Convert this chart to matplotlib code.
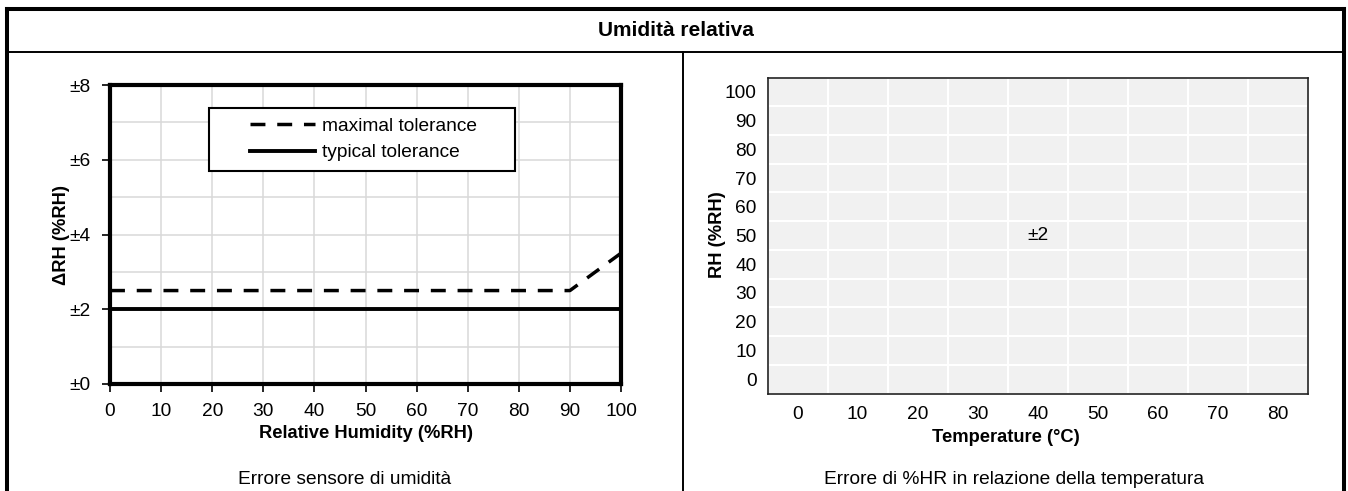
import numpy as np
import matplotlib
matplotlib.use("Agg")
import matplotlib.pyplot as plt
from matplotlib.lines import Line2D
from matplotlib.patches import Rectangle

plt.rcParams['font.family'] = ['Liberation Sans', 'DejaVu Sans']

# left chart: tolerance vs relative humidity
rh_max = [0, 90, 100]
tol_max = [2.5, 2.5, 3.5]
rh_typ = [0, 100]
tol_typ = [2.0, 2.0]
rh_ticks = list(range(0, 101, 10))
dev_ticks = [0, 2, 4, 6, 8]
dev_labels = ['±0', '±2', '±4', '±6', '±8']

# right chart: error grid vs temperature
temps = [0, 10, 20, 30, 40, 50, 60, 70, 80]
rh_rows = [0, 10, 20, 30, 40, 50, 60, 70, 80, 90, 100]
cell_label = '±2'
cell_at = (40, 50)

W, H = 1348, 491
fig = plt.figure(figsize=(W / 100, H / 100), dpi=100)

TICK = 13.8
LAB = 13.2


def box(x, y, w, h):
    return [x / W, 1 - (y + h) / H, w / W, h / H]


def fline(xs, ys, lw):
    fig.add_artist(Line2D([x / W for x in xs], [1 - y / H for y in ys],
                          color='black', lw=lw, solid_capstyle='projecting'))


# outer table frame
fline([7, 7], [9, H + 5], 2.9)
fline([1344, 1344], [9, H + 5], 2.9)
fline([7, 1344], [9, 9], 2.9)
fline([7, 1344], [52, 52], 1.4)
fline([683, 683], [52, H + 5], 1.4)

fig.text(676 / W, 1 - 30 / H, 'Umidità relativa', ha='center', va='center',
         fontsize=15, fontweight='bold')

# ---- left chart ----
ax = fig.add_axes(box(110, 85, 511, 299))
ax.plot(rh_max, tol_max, color='black', lw=2.5, dashes=(4.3, 3.4),
        dash_capstyle='butt', label='maximal tolerance', zorder=3)
ax.plot(rh_typ, tol_typ, color='black', lw=2.8, label='typical tolerance', zorder=3)
ax.set_xlim(0, 100)
ax.set_ylim(0, 8)
ax.set_xticks(rh_ticks)
ax.set_yticks(dev_ticks)
ax.set_yticklabels(dev_labels)
ax.set_yticks(range(1, 8, 2), minor=True)
ax.tick_params(which='minor', length=0)
ax.tick_params(which='major', labelsize=TICK, length=6, width=1.2, direction='out')
ax.tick_params(axis='y', pad=8)
ax.tick_params(axis='x', pad=8)
ax.grid(True, which='both', color='#d9d9d9', lw=1.1, zorder=0)
ax.set_axisbelow(True)
for s in ax.spines.values():
    s.set_linewidth(3)
fig.text(366 / W, 1 - 434 / H, 'Relative Humidity (%RH)', ha='center', va='center',
         fontsize=LAB, fontweight='bold')
fig.text(62 / W, 1 - 235 / H, 'ΔRH (%RH)', ha='center', va='center',
         rotation=90, fontsize=LAB, fontweight='bold')

ax.add_patch(Rectangle(((209 - 110) / 511, (384 - 171) / 299), 306 / 511, 63 / 299,
                       transform=ax.transAxes, fill=True, facecolor='white',
                       edgecolor='black', lw=1.5, zorder=4))
leg = ax.legend(loc='center left', bbox_to_anchor=((250 - 110) / 511, (384 - 139.5) / 299),
                frameon=False, fontsize=TICK, handlelength=3.4, handletextpad=0.35,
                labelspacing=0.45, borderaxespad=0, borderpad=0)
leg.set_zorder(5)

fig.text(345 / W, 1 - 480 / H, 'Errore sensore di umidità', ha='center', va='center',
         fontsize=TICK)

# ---- right chart ----
ax2 = fig.add_axes(box(767.5, 77.5, 540.5, 316))
ax2.set_facecolor('#f1f1f1')
ax2.set_xlim(-0.5, len(temps) - 0.5)
ax2.set_ylim(-0.5, len(rh_rows) - 0.5)
ax2.set_xticks(range(len(temps)))
ax2.set_xticklabels([str(t) for t in temps])
ax2.set_yticks(range(len(rh_rows)))
ax2.set_yticklabels([str(r) for r in rh_rows])
ax2.set_xticks(np.arange(-0.5, len(temps)), minor=True)
ax2.set_yticks(np.arange(-0.5, len(rh_rows)), minor=True)
ax2.grid(True, which='minor', color='white', lw=1.5)
ax2.tick_params(which='both', length=0, labelsize=TICK)
ax2.tick_params(axis='y', pad=8)
ax2.tick_params(axis='x', pad=9)
for s in ax2.spines.values():
    s.set_linewidth(1.2)
    s.set_color('#222222')
ax2.text(temps.index(cell_at[0]), rh_rows.index(cell_at[1]), cell_label,
         ha='center', va='center', fontsize=TICK)
fig.text(1006 / W, 1 - 437 / H, 'Temperature (°C)', ha='center', va='center',
         fontsize=LAB, fontweight='bold')
fig.text(718 / W, 1 - 235 / H, 'RH (%RH)', ha='center', va='center',
         rotation=90, fontsize=LAB, fontweight='bold')
fig.text(1014 / W, 1 - 480 / H, 'Errore di %HR in relazione della temperatura',
         ha='center', va='center', fontsize=TICK)

fig.savefig('out.png', dpi=100)
